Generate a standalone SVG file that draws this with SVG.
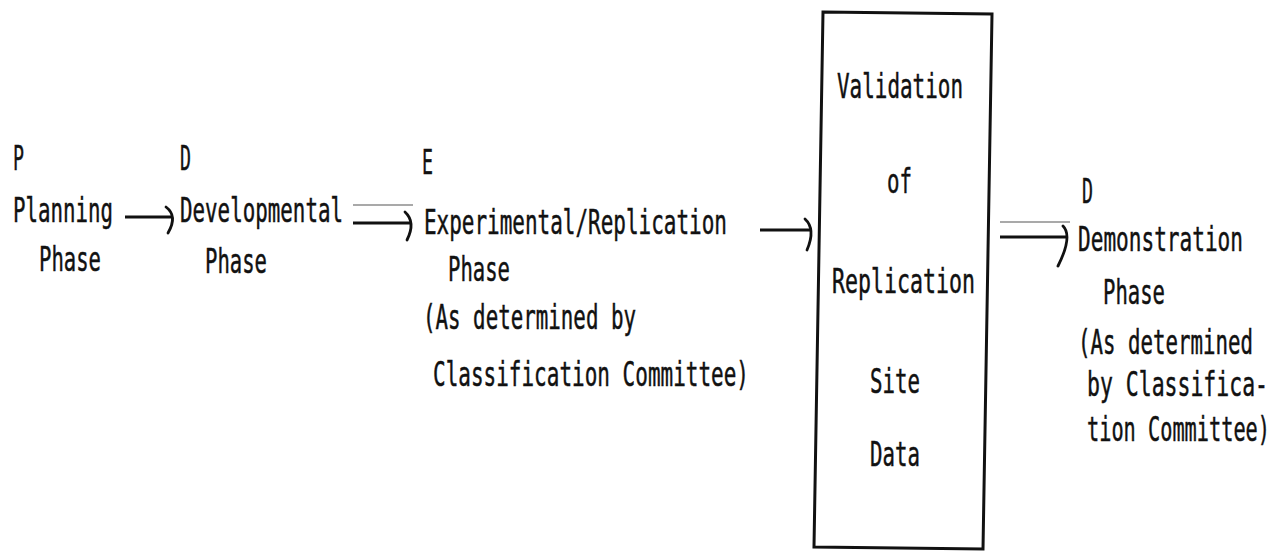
<svg xmlns="http://www.w3.org/2000/svg" width="1278" height="556" viewBox="0 0 1278 556">
<style>
text{font-family:"DejaVu Sans Mono","Liberation Mono",monospace;font-size:34px;fill:#111;stroke:#111;stroke-width:0.5}
.shaft{stroke:#111;stroke-width:3.2;fill:none}
.head{stroke:#111;stroke-width:2.8;fill:none;stroke-linecap:round}
.over{stroke:#555;stroke-width:1.2}
.box{stroke:#111;stroke-width:3;fill:none}
</style>
<rect width="1278" height="556" fill="#fff"/>
<g id="planning">
<text x="13" y="170" textLength="11" lengthAdjust="spacingAndGlyphs">P</text>
<text x="13" y="222" textLength="100" lengthAdjust="spacingAndGlyphs">Planning</text>
<text x="39" y="271" textLength="62" lengthAdjust="spacingAndGlyphs">Phase</text>
</g>
<g id="developmental">
<text x="180" y="170" textLength="11" lengthAdjust="spacingAndGlyphs">D</text>
<text x="180" y="222" textLength="163" lengthAdjust="spacingAndGlyphs">Developmental</text>
<text x="205" y="273" textLength="62" lengthAdjust="spacingAndGlyphs">Phase</text>
</g>
<g id="experimental">
<text x="422" y="174" textLength="11" lengthAdjust="spacingAndGlyphs">E</text>
<text x="424" y="234" textLength="303" lengthAdjust="spacingAndGlyphs">Experimental/Replication</text>
<text x="448" y="281" textLength="62" lengthAdjust="spacingAndGlyphs">Phase</text>
<text x="423" y="329" textLength="213" lengthAdjust="spacingAndGlyphs">(As determined by</text>
<text x="433" y="386" textLength="316" lengthAdjust="spacingAndGlyphs">Classification Committee)</text>
</g>
<g id="validation">
<polygon class="box" points="823,12 992,14 983,549 814,547"/>
<text x="837" y="98" textLength="126" lengthAdjust="spacingAndGlyphs">Validation</text>
<text x="887" y="193" textLength="25" lengthAdjust="spacingAndGlyphs">of</text>
<text x="832" y="293" textLength="143" lengthAdjust="spacingAndGlyphs">Replication</text>
<text x="870" y="393" textLength="50" lengthAdjust="spacingAndGlyphs">Site</text>
<text x="870" y="466" textLength="50" lengthAdjust="spacingAndGlyphs">Data</text>
</g>
<g id="demonstration">
<text x="1082" y="203" textLength="11" lengthAdjust="spacingAndGlyphs">D</text>
<text x="1078" y="251" textLength="165" lengthAdjust="spacingAndGlyphs">Demonstration</text>
<text x="1103" y="304" textLength="62" lengthAdjust="spacingAndGlyphs">Phase</text>
<text x="1078" y="354" textLength="175" lengthAdjust="spacingAndGlyphs">(As determined</text>
<text x="1087" y="396" textLength="181" lengthAdjust="spacingAndGlyphs">by Classifica-</text>
<text x="1087" y="441" textLength="183" lengthAdjust="spacingAndGlyphs">tion Committee)</text>
</g>
<g id="connectors">
<line class="shaft" x1="125" y1="217" x2="172" y2="217"/>
<path class="head" d="M166,207 Q178,216 168,233"/>
<line class="over" x1="353" y1="205" x2="413" y2="205"/>
<line class="shaft" x1="353" y1="223" x2="411" y2="223"/>
<path class="head" d="M405,212 Q416,222 407,240"/>
<line class="shaft" x1="760" y1="230" x2="811" y2="230"/>
<path class="head" d="M805,219 Q816,229 807,250"/>
<line class="over" x1="1000" y1="222" x2="1070" y2="222"/>
<line class="shaft" x1="1000" y1="237" x2="1067" y2="237"/>
<path class="head" d="M1063,226 Q1073,236 1058,266"/>
</g>
</svg>
